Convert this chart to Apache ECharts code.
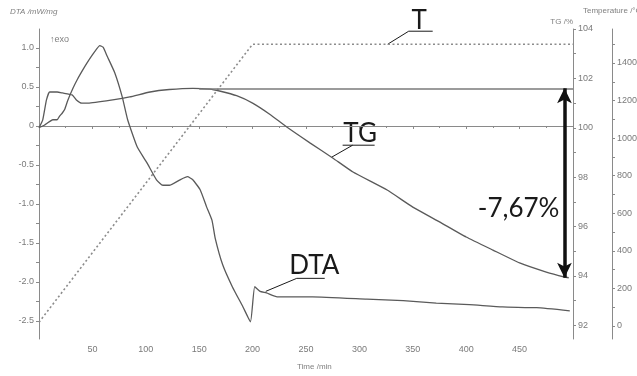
<!DOCTYPE html>
<html><head><meta charset="utf-8">
<script src="https://cdn.jsdelivr.net/npm/echarts@6/dist/echarts.min.js"></script>
<style>html,body{margin:0;padding:0;background:#fff}#c{width:637px;height:376px}</style>
</head><body><div id="c"></div>
<script>
// ---- data ----
const dtaTime = [0,5,13,17,19,22,24,27,32,36,41,45,52,57,60,64,71,78,83,92,101,110,116,122,132,139,144,151,157,162,165,172,181,191,198,202,207,213,223,256,307,341,372,403,434,466,497];
const dtaValues = [-0.02,0.01,0.08,0.08,0.12,0.17,0.21,0.33,0.49,0.60,0.72,0.81,0.95,1.03,1.01,0.89,0.68,0.37,0.08,-0.27,-0.47,-0.69,-0.76,-0.76,-0.69,-0.65,-0.69,-0.82,-1.04,-1.21,-1.44,-1.78,-2.06,-2.32,-2.51,-2.06,-2.12,-2.14,-2.19,-2.19,-2.22,-2.24,-2.27,-2.29,-2.32,-2.33,-2.37];
const tgTime = [0,3.5,7,10,17,22,31,35,40,46,69,85,104,122,144,160,169,185,200,216,232,254,275,294,326,350,375,400,425,450,475,492,496];
const tgValues = [100.0,100.32,101.13,101.45,101.45,101.41,101.33,101.13,101.0,101.0,101.13,101.25,101.45,101.55,101.6,101.57,101.49,101.3,101.0,100.55,100.03,99.38,98.78,98.21,97.48,96.79,96.19,95.58,95.05,94.53,94.16,93.96,93.93];
const tempTime = [0,200,500];
const tempValues = [20,1500,1500];
const tgMax = 101.6;
const tgEnd = 93.93;
const massLossLabel = '-7,67%';
const timeTicks = [50,100,150,200,250,300,350,400,450];
const dtaTicks = [-2.5,-2.0,-1.5,-1.0,-0.5,0,0.5,1.0];
const dtaMinorTicks = [-2.5,-2.25,-2.0,-1.75,-1.5,-1.25,-1.0,-0.75,-0.5,-0.25,0,0.25,0.5,0.75,1.0];
const tgTicks = [92,94,96,98,100,102,104];
const tgMinorTicks = [92,93,94,95,96,97,98,99,100,101,102,103,104];
const tempTicks = [0,200,400,600,800,1000,1200,1400];
const tempMinorTicks = [0,100,200,300,400,500,600,700,800,900,1000,1100,1200,1300,1400,1500];

const zip = (a,b) => a.map((x,i)=>[x,b[i]]);
const chart = echarts.init(document.getElementById('c'), null, {renderer:'canvas'});
const AX = '#8a8a8a', LBL = '#7a7a7a', FONT = 'Liberation Sans';
const lblStyle = {color: LBL, fontSize: 9, fontFamily: FONT};

chart.setOption({
  animation: false,
  backgroundColor: '#fff',
  grid: {left: 39, right: 64, top: 29, bottom: 37, containLabel: false, outerBoundsMode: 'none'},
  xAxis: {
    type: 'value', min: 0, max: 500, interval: 50,
    axisLine: {lineStyle: {color: AX, width: 1}},
    axisTick: {show: true, length: 3, lineStyle: {color: AX}},
    minorTick: {show: true, splitNumber: 2, length: 2, lineStyle: {color: AX}},
    splitLine: {show: false},
    axisLabel: {...lblStyle, margin: 6, formatter: v => timeTicks.includes(v) ? String(v) : ''}
  },
  yAxis: [
    { type: 'value', position: 'left', min: -2.731, max: 1.2436,
      axisLine: {show: true, lineStyle: {color: AX}},
      axisTick: {show: true, length: 3, lineStyle: {color: AX}, customValues: dtaMinorTicks},
      splitLine: {show: false},
      axisLabel: {...lblStyle, margin: 5, customValues: dtaTicks, formatter: v => Math.abs(v) < 1e-9 ? '0' : v.toFixed(1)}
    },
    { type: 'value', position: 'right', min: 91.45, max: 104,
      axisLine: {show: true, lineStyle: {color: AX}},
      axisTick: {show: true, length: 3, lineStyle: {color: AX}, customValues: tgMinorTicks},
      splitLine: {show: false},
      axisLabel: {...lblStyle, margin: 5, customValues: tgTicks, formatter: v => String(Math.round(v))}
    },
    { type: 'value', position: 'right', offset: 39, min: -69.2, max: 1581,
      axisLine: {show: true, lineStyle: {color: AX}},
      axisTick: {show: true, length: 3, lineStyle: {color: AX}, customValues: tempMinorTicks},
      splitLine: {show: false},
      axisLabel: {...lblStyle, margin: 5, customValues: tempTicks, formatter: v => String(Math.round(v))}
    }
  ],
  series: [
    { name: 'T', type: 'line', yAxisIndex: 2, data: zip(tempTime, tempValues), showSymbol: false,
      lineStyle: {color: '#8c8c8c', width: 1.6, type: [2, 2.5]} },
    { name: 'DTA', type: 'line', yAxisIndex: 0, data: zip(dtaTime, dtaValues), showSymbol: false, smooth: 0.15,
      lineStyle: {color: '#5a5a5a', width: 1.3} },
    { name: 'TG', type: 'line', yAxisIndex: 1, data: zip(tgTime, tgValues), showSymbol: false, smooth: 0.15,
      lineStyle: {color: '#5a5a5a', width: 1.3},
      markLine: { silent: true, animation: false, label: {show: false},
        data: [
          [{coord: [150, tgMax], symbol: 'none', lineStyle: {color: '#7a7a7a', width: 1.5, type: 'solid'}},
           {coord: [500, tgMax], symbol: 'none'}],
          [{coord: [492, tgMax], symbol: 'arrow', symbolSize: [11, 15], lineStyle: {color: '#111', width: 3.5, type: 'solid'}},
           {coord: [492, tgEnd], symbol: 'arrow', symbolSize: [11, 15]}]
        ] } }
  ]
});

// annotation layout (anchored on data coordinates)
const annots = [
  {text: 'T',   axis: 2, t: 326.5, v: 1500,  lead: [21, -13], under: [0, 24],  tx: 10.5, ty: -12},
  {text: 'TG',  axis: 1, t: 274,   v: 98.81, lead: [21, -12], under: [-10, 22], tx: 7.5,  ty: -13.5},
  {text: 'DTA', axis: 0, t: 212.3, v: -2.12, lead: [31, -13], under: [0, 28],  tx: 17.5, ty: -14}
];
const g = [];
const bigFont = {fontFamily: 'Lato', fontSize: 26, fill: '#1a1a1a'};
annots.forEach(a => {
  const p = chart.convertToPixel({xAxisIndex: 0, yAxisIndex: a.axis}, [a.t, a.v]);
  const e = [p[0] + a.lead[0], p[1] + a.lead[1]];
  g.push({type: 'line', shape: {x1: p[0], y1: p[1], x2: e[0], y2: e[1]}, style: {stroke: '#1a1a1a', lineWidth: 1}});
  g.push({type: 'line', shape: {x1: e[0] + a.under[0], y1: e[1], x2: e[0] + a.under[1], y2: e[1]}, style: {stroke: '#1a1a1a', lineWidth: 1}});
  g.push({type: 'text', x: e[0] + a.tx, y: e[1] + a.ty + 1.5, style: {...bigFont, text: a.text, textAlign: 'center', textVerticalAlign: 'middle'}});
});
const pl = chart.convertToPixel({xAxisIndex: 0, yAxisIndex: 1}, [492, 96.8]);
g.push({type: 'text', x: pl[0] - 5, y: pl[1] + 1.5, style: {...bigFont, text: massLossLabel, textAlign: 'right', textVerticalAlign: 'middle'}});
const small = {fontFamily: FONT, fill: '#808080', fontSize: 8};
g.push({type: 'text', x: 10, y: 12, style: {...small, text: 'DTA /mW/mg', fontStyle: 'italic', textVerticalAlign: 'middle'}});
g.push({type: 'text', x: 50, y: 40, style: {...small, fontSize: 9, text: '↑exo', textVerticalAlign: 'middle'}});
g.push({type: 'text', x: 297, y: 367, style: {...small, text: 'Time /min', textVerticalAlign: 'middle'}});
g.push({type: 'text', x: 573, y: 22, style: {...small, text: 'TG /%', textAlign: 'right', textVerticalAlign: 'middle'}});
g.push({type: 'text', x: 583, y: 11, style: {...small, text: 'Temperature /°C', textVerticalAlign: 'middle'}});
chart.setOption({graphic: g});
</script></body></html>
